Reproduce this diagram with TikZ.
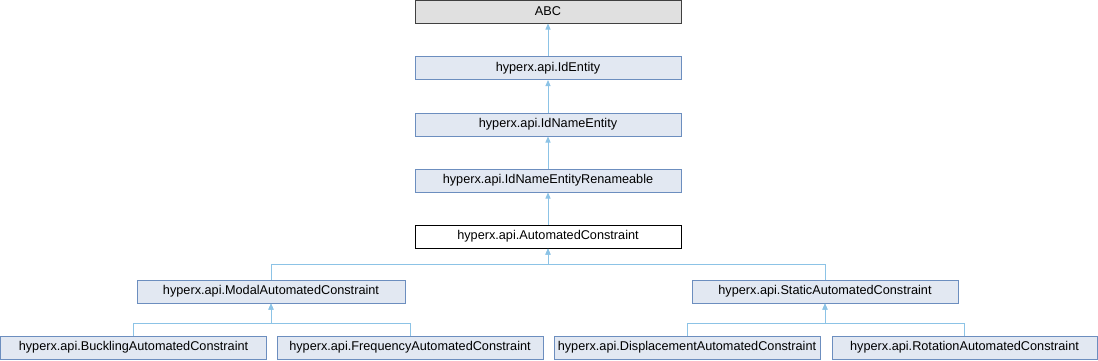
\documentclass[tikz,border=0pt]{standalone}
\usepackage{fontspec}
\setmainfont{Liberation Sans}
\usepackage{tikz}
\usetikzlibrary{arrows.meta,positioning,calc}
\definecolor{classfill}{HTML}{E2E8F2}
\definecolor{classline}{HTML}{6C8EBF}
\definecolor{rootfill}{HTML}{E0E0E0}
\definecolor{edgeblue}{HTML}{8CC3E6}

\begin{document}
\begin{tikzpicture}[x=1pt,y=1pt,
    cls/.style={draw=classline,fill=classfill,line width=1pt,minimum width=266pt,minimum height=23pt,
        inner sep=0pt,font=\fontsize{12.7}{15}\selectfont},
    root/.style={cls,draw=black!75,fill=rootfill},
    self/.style={cls,draw=black,fill=white},
    edge/.style={draw=edgeblue,line width=1pt,-{Triangle[length=6pt,width=5pt]}}]
    \useasboundingbox (0,0) rectangle (1098,-360);
    % chain of base classes
    \node[root] (abc) at (548,-11.5) {ABC};
    \node[cls] (ident) at (548,-68) {hyperx.api.IdEntity};
    \node[cls] (idname) at (548,-124.5) {hyperx.api.IdNameEntity};
    \node[cls] (rename) at (548,-180.5) {hyperx.api.IdNameEntityRenameable};
    \node[self] (autoc) at (548,-236.5) {hyperx.api.AutomatedConstraint};
    \draw[edge] (ident) -- (abc);
    \draw[edge] (idname) -- (ident);
    \draw[edge] (rename) -- (idname);
    \draw[edge] (autoc) -- (rename);
    % derived classes
    \node[cls,minimum width=268pt] (modal) at (271,-291.5) {hyperx.api.ModalAutomatedConstraint};
    \node[cls] (static) at (825,-291.5) {hyperx.api.StaticAutomatedConstraint};
    \node[cls] (buck) at (133.5,-347.5) {hyperx.api.BucklingAutomatedConstraint};
    \node[cls] (freq) at (410,-347.5) {hyperx.api.FrequencyAutomatedConstraint};
    \node[cls] (disp) at (687,-347.5) {hyperx.api.DisplacementAutomatedConstraint};
    \node[cls,minimum width=265pt] (rot) at (964.5,-347.5) {hyperx.api.RotationAutomatedConstraint};
    \coordinate (topbus) at (548,-264);
    \coordinate (modalbus) at (271,-323.5);
    \coordinate (staticbus) at (825,-323.5);
    \draw[edge] (modal.north) |- (topbus) -- (autoc.south);
    \draw[edge] (static.north) |- (topbus) -- (autoc.south);
    \draw[edge] (buck.north) |- (modalbus) -- (modal.south);
    \draw[edge] (freq.north) |- (modalbus) -- (modal.south);
    \draw[edge] (disp.north) |- (staticbus) -- (static.south);
    \draw[edge] (rot.north) |- (staticbus) -- (static.south);
\end{tikzpicture}
\end{document}
